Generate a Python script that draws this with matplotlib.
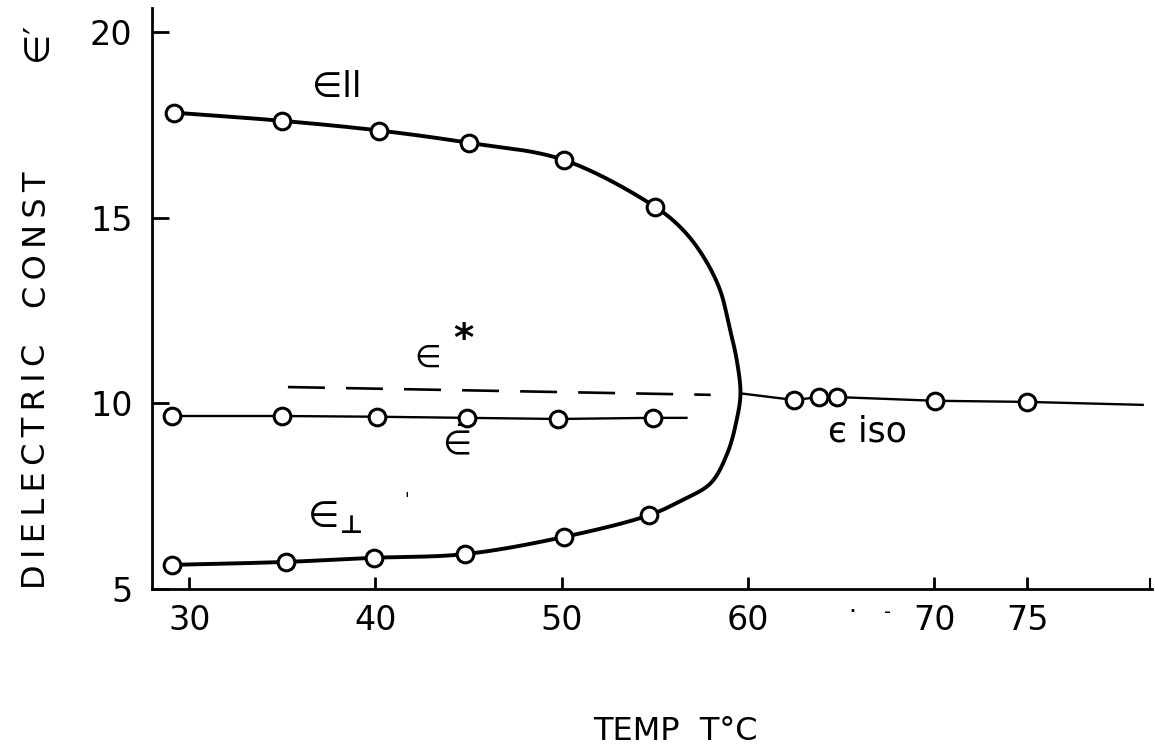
import matplotlib
matplotlib.use("Agg")
import matplotlib.pyplot as plt
import numpy as np

plt.rcParams['font.family'] = ['DejaVu Sans']
plt.rcParams['mathtext.fontset'] = 'dejavusans'

# ---- data ----
# epsilon parallel (measured points)
par_T = [29.2, 35.0, 40.2, 45.0, 50.1, 55.0]
par_eps = [17.83, 17.61, 17.35, 17.02, 16.56, 15.30]
# hand-drawn curve through the nematic-isotropic nose (between the 55 C points)
nose_T = [56.5, 57.6, 58.5, 59.0, 59.4, 59.6, 59.4, 58.9, 58.0, 56.5]
nose_eps = [14.68, 13.96, 13.06, 12.07, 11.17, 10.27, 9.56, 8.66, 7.85, 7.40]
# epsilon perpendicular (measured points)
perp_T = [29.1, 35.2, 39.9, 44.8, 50.1, 54.7]
perp_eps = [5.65, 5.73, 5.84, 5.94, 6.40, 6.99]
# mean epsilon (measured points) and end of its drawn line
bar_T = [29.1, 35.0, 40.1, 44.9, 49.8, 54.9]
bar_eps = [9.66, 9.66, 9.64, 9.61, 9.58, 9.61]
bar_line_end = (56.7, 9.61)
# epsilon* extrapolated (dashed)
star_T = [35.3, 58.0]
star_eps = [10.44, 10.23]
# isotropic (measured points) plus start/end of its drawn line
iso_T = [62.5, 63.8, 64.8, 70.05, 75.0]
iso_eps = [10.09, 10.17, 10.17, 10.07, 10.04]
iso_line_start = (59.6, 10.27)
iso_line_end = (81.2, 9.96)

x_ticks = [30, 40, 50, 60, 70, 75]
y_ticks = [5, 10, 15, 20]


def smooth(xs, ys, sx=18.6, sy=37.1, n=24, alpha=0.5):
    """Centripetal Catmull-Rom rendering of a hand-drawn curve through the read points."""
    P = np.column_stack([np.asarray(xs) * sx, np.asarray(ys) * sy])
    P = np.vstack([2 * P[0] - P[1], P, 2 * P[-1] - P[-2]])
    out = []
    for i in range(1, len(P) - 2):
        p0, p1, p2, p3 = P[i - 1], P[i], P[i + 1], P[i + 2]
        t0 = 0.0
        t1 = t0 + np.linalg.norm(p1 - p0) ** alpha
        t2 = t1 + np.linalg.norm(p2 - p1) ** alpha
        t3 = t2 + np.linalg.norm(p3 - p2) ** alpha
        t = np.linspace(t1, t2, n, endpoint=False)[:, None]
        a1 = (t1 - t) / (t1 - t0) * p0 + (t - t0) / (t1 - t0) * p1
        a2 = (t2 - t) / (t2 - t1) * p1 + (t - t1) / (t2 - t1) * p2
        a3 = (t3 - t) / (t3 - t2) * p2 + (t - t2) / (t3 - t2) * p3
        b1 = (t2 - t) / (t2 - t0) * a1 + (t - t0) / (t2 - t0) * a2
        b2 = (t3 - t) / (t3 - t1) * a2 + (t - t1) / (t3 - t1) * a3
        c = (t2 - t) / (t2 - t1) * b1 + (t - t1) / (t2 - t1) * b2
        out.append(c)
    out.append(P[-2][None, :])
    out = np.vstack(out)
    return out[:, 0] / sx, out[:, 1] / sy


W, H = 1155, 754
fig = plt.figure(figsize=(W / 100, H / 100), dpi=100)
ax = fig.add_axes([152 / W, 165 / H, 1000 / W, 581 / H])
ax.set_xlim(28, 81.7)
ax.set_ylim(5, 20.65)

mk = dict(marker='o', ms=12, mfc='white', mec='black', mew=2.2, ls='none', zorder=5)

# main curve: parallel -> nose -> perpendicular
cT = par_T + nose_T + perp_T[::-1]
cE = par_eps + nose_eps + perp_eps[::-1]
sT, sE = smooth(cT, cE)
ax.plot(sT, sE, color='black', lw=2.8, solid_capstyle='round', solid_joinstyle='round', zorder=3)
ax.plot(par_T, par_eps, **mk)
ax.plot(perp_T, perp_eps, **mk)

# mean epsilon
ax.plot(bar_T + [bar_line_end[0]], bar_eps + [bar_line_end[1]], color='black', lw=1.7, zorder=3)
ax.plot(bar_T, bar_eps, **mk)

# epsilon* dashed
ax.plot(star_T, star_eps, color='black', lw=1.9, dashes=(14, 8), zorder=3)

# isotropic
ax.plot([iso_line_start[0]] + iso_T + [iso_line_end[0]],
        [iso_line_start[1]] + iso_eps + [iso_line_end[1]], color='black', lw=1.7, zorder=3)
ax.plot(iso_T, iso_eps, **mk)

# curve labels
ax.text(37.9, 18.53, "∈ll", fontsize=25, ha='center', va='center')
ax.text(42.8, 11.23, "∈", fontsize=22, ha='center', va='center')
ax.text(44.7, 11.71, "*", fontsize=28, fontweight='bold', ha='center', va='center')
ax.text(44.2, 8.9, r"$\bar{\in}$", fontsize=24, ha='center', va='center')
ax.text(37.6, 6.95, r"$\in\!\!_{\mathbf{\bot}}$", fontsize=26, ha='center', va='center')
ax.text(41.7, 7.4, "'", fontsize=12, ha='center', va='center')
ax.text(66.4, 9.23, "є iso", fontsize=25, ha='center', va='center')

# spines / ticks
for s in ['top', 'right']:
    ax.spines[s].set_visible(False)
for s in ['left', 'bottom']:
    ax.spines[s].set_linewidth(2.0)
ax.set_xticks(x_ticks)
ax.set_xticklabels([str(t) for t in x_ticks])
ax.set_xticks([81.6], minor=True)
ax.set_yticks(y_ticks)
ax.set_yticklabels([str(t) for t in y_ticks])
ax.tick_params(axis='x', which='major', direction='in', length=9, width=2, labelsize=24, pad=11)
ax.tick_params(axis='x', which='minor', direction='in', length=8, width=1.5)
ax.tick_params(axis='y', direction='in', length=12, width=2, labelsize=24, pad=14)

# stray marks below the axis between 60 and 70
ax.text(65.6, 4.38, "·", fontsize=18, ha='center', va='center', clip_on=False)
ax.text(67.5, 4.38, "-", fontsize=14, ha='center', va='center', clip_on=False)

# axis titles
ts = "\u2009"
fig.text(675 / W, 1 - 732 / H, "TEMP  T°C", fontsize=23, ha='center', va='center')
fig.text(37 / W, 1 - 466 / H, ts.join("DIELECTRIC"), fontsize=23, rotation=90, ha='center', va='center')
fig.text(37 / W, 1 - 240 / H, ts.join("CONST"), fontsize=23, rotation=90, ha='center', va='center')
fig.text(37 / W, 1 - 42 / H, "∈′", fontsize=25, rotation=90, ha='center', va='center')

fig.savefig("out.png", dpi=100)
